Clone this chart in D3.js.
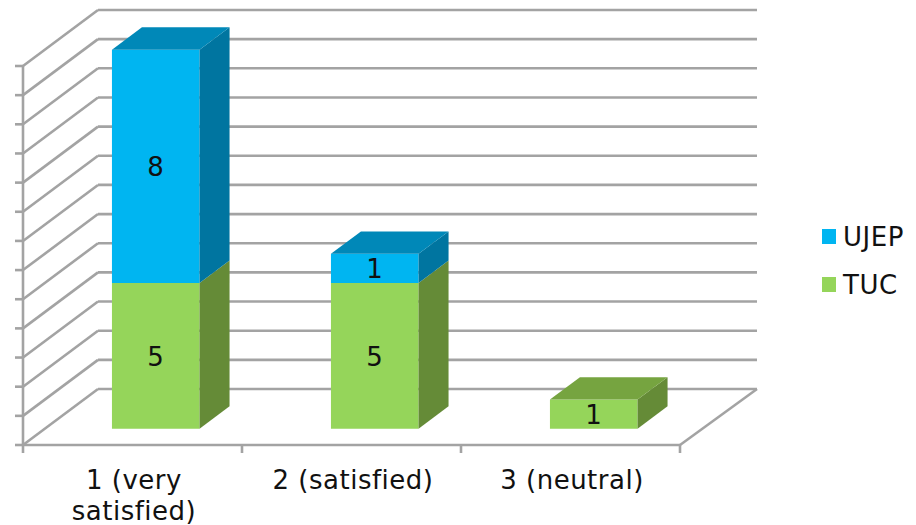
<!DOCTYPE html>
<html><head><meta charset="utf-8">
<script src="https://cdn.jsdelivr.net/npm/d3@7"></script>
<style>html,body{margin:0;padding:0;background:#fff}svg{display:block}text{font-family:"DejaVu Sans",sans-serif;fill:#111;letter-spacing:.5px}</style>
</head><body><div id="c"></div>
<script>
const categories = ["1 (very satisfied)", "2 (satisfied)", "3 (neutral)"];
const seriesNames = ["TUC", "UJEP"];
const tucValues = [5, 5, 1];
const ujepValues = [8, 1, 0];
const yTicks = d3.range(0, 14);
const faceColors = {
  TUC: {front:"#95d55a", top:"#76a440", side:"#658b37"},
  UJEP: {front:"#00b5f1", top:"#0088b8", side:"#0075a0"}
};
const W=916,H=525,FS=26;
const svg=d3.select("#c").append("svg").attr("width",W).attr("height",H);
const x=d3.scaleBand().domain(categories).range([23,680]);
const xBack=d3.scaleLinear().domain(x.range()).range([98,757]);
const y=d3.scaleLinear().domain([0,13]).range([445,66]);
const DX=75,DY=-56;
const backY=v=>y(v)+DY;
const grid="#a3a3a3";
const line=(a,b,w=2.6)=>svg.append("line").attr("x1",a[0]).attr("y1",a[1]).attr("x2",b[0]).attr("y2",b[1]).attr("stroke",grid).attr("stroke-width",w);
const [x0,x1]=x.range();
yTicks.forEach(v=>{
  line([x0,y(v)],[xBack(x0),backY(v)]);
  line([xBack(x0),backY(v)],[xBack(x1),backY(v)]);
  line([x0-8,y(v)],[x0,y(v)]);
});
line([x0,y(0)],[x0,y(13)]);
line([x0,y(0)],[x1,y(0)]);
line([x1,y(0)],[xBack(x1),backY(0)]);
[...categories.map(c=>x(c)),x1].forEach(px=>line([px,y(0)],[px,y(0)+8]));

const barW=x.bandwidth()*0.4, t0=0.29, dt=0.40;
const poly=(pts,fill)=>svg.append("polygon").attr("points",pts.map(p=>p.join(",")).join(" ")).attr("fill",fill);
const fy=v=>y(v)+t0*DY;
categories.forEach((c,i)=>{
  const cx=x(c)+x.bandwidth()/2+1.5;
  const L=cx-barW/2+t0*DX, R=L+barW;
  let base=0;
  const segs=[["TUC",tucValues[i]],["UJEP",ujepValues[i]]].filter(s=>s[1]>0);
  segs.forEach(([name,val],k)=>{
    const col=faceColors[name], top=base+val;
    poly([[L,fy(base)],[R,fy(base)],[R,fy(top)],[L,fy(top)]],col.front);
    poly([[R,fy(base)],[R+dt*DX,fy(base)+dt*DY],[R+dt*DX,fy(top)+dt*DY],[R,fy(top)]],col.side);
    if(k===segs.length-1) poly([[L,fy(top)],[R,fy(top)],[R+dt*DX,fy(top)+dt*DY],[L+dt*DX,fy(top)+dt*DY]],col.top);
    svg.append("text").attr("x",(L+R)/2).attr("y",(fy(base)+fy(top))/2+10).attr("text-anchor","middle").attr("font-size",FS).text(val);
    base=top;
  });
  const t=svg.append("text").attr("text-anchor","middle").attr("font-size",FS);
  let ln=[],row=0,ts=t.append("tspan").attr("x",cx).attr("y",489);
  c.split(" ").forEach(w=>{
    ln.push(w);ts.text(ln.join(" "));
    if(ts.node().getComputedTextLength()>x.bandwidth()*0.8&&ln.length>1){
      ln.pop();ts.text(ln.join(" "));ln=[w];row++;
      ts=t.append("tspan").attr("x",cx).attr("y",489+row*31).text(w);
    }
  });
});
[["UJEP",faceColors.UJEP.front,245],["TUC",faceColors.TUC.front,293]].forEach(([n,col,yb])=>{
  svg.append("rect").attr("x",822).attr("y",yb-16).attr("width",14).attr("height",15).attr("fill",col);
  svg.append("text").attr("x",843).attr("y",yb+1).attr("font-size",FS).text(n);
});
</script></body></html>
